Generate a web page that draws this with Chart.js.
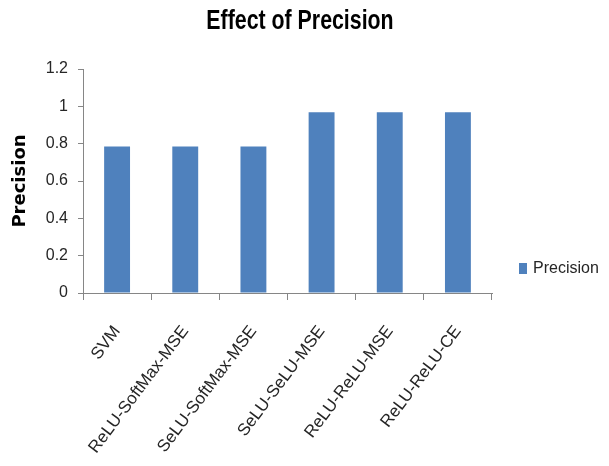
<!DOCTYPE html>
<html>
<head>
<meta charset="utf-8">
<script src="https://cdn.jsdelivr.net/npm/chart.js@4.4.0/dist/chart.umd.min.js"></script>
<style>
  html, body { margin: 0; padding: 0; background: #fff; }
  #wrap { width: 609px; height: 466px; }
</style>
</head>
<body>
<div id="wrap"><canvas id="precisionChart" width="609" height="466"></canvas></div>
<script>
// Chart data
const categories = ['SVM', 'ReLU-SoftMax-MSE', 'SeLU-SoftMax-MSE', 'SeLU-SeLU-MSE', 'ReLU-ReLU-MSE', 'ReLU-ReLU-CE'];
const precisionValues = [0.785, 0.785, 0.785, 0.968, 0.968, 0.968];
const seriesName = 'Precision';
const chartTitle = 'Effect of Precision';
const yTicks = [0, 0.2, 0.4, 0.6, 0.8, 1, 1.2];

const barColor = '#4F81BD';
const axisColor = '#868686';
const textColor = '#262626';
const baseFont = '"Liberation Sans", Arial, sans-serif';

// Condensed bold title, like the Calibri one in the original
const condensedTitle = {
    id: 'condensedTitle',
    afterDraw(chart) {
        const ctx = chart.ctx;
        ctx.save();
        ctx.translate(300, 29);
        ctx.scale(0.79, 1);
        ctx.font = 'bold 27px ' + baseFont;
        ctx.fillStyle = '#000';
        ctx.textAlign = 'center';
        ctx.textBaseline = 'alphabetic';
        ctx.fillText(chartTitle, 0, 0);
        ctx.restore();
    }
};

// Legend on the right, Excel style
const sideLegend = {
    id: 'sideLegend',
    afterDraw(chart) {
        const ctx = chart.ctx;
        const x = chart.chartArea.right + 27;
        const y = 269;
        ctx.save();
        ctx.fillStyle = barColor;
        ctx.fillRect(x, y - 6, 8, 11);
        ctx.fillStyle = textColor;
        ctx.font = '16px ' + baseFont;
        ctx.textBaseline = 'middle';
        ctx.fillText(seriesName, x + 14, y);
        ctx.restore();
    }
};

function createPrecisionChart() {
    const ctx = document.getElementById('precisionChart').getContext('2d');
    return new Chart(ctx, {
        type: 'bar',
        data: {
            labels: categories,
            datasets: [{
                label: seriesName,
                data: precisionValues,
                backgroundColor: barColor,
                borderWidth: 0,
                categoryPercentage: 1,
                barPercentage: 0.38
            }]
        },
        options: {
            responsive: false,
            animation: false,
            layout: { padding: { left: 0, right: 117, top: 69, bottom: 0 } },
            plugins: {
                legend: { display: false },
                tooltip: { enabled: false },
                title: { display: false }
            },
            scales: {
                x: {
                    afterFit(scale) { scale.height = 173; },
                    grid: {
                        drawOnChartArea: false,
                        drawTicks: true,
                        tickLength: 7,
                        color: axisColor
                    },
                    border: { color: axisColor, width: 1 },
                    ticks: {
                        color: textColor,
                        minRotation: 53,
                        maxRotation: 53,
                        padding: 22,
                        font: { family: baseFont, size: 17 }
                    }
                },
                y: {
                    min: 0,
                    max: 1.2,
                    afterFit(scale) { scale.width = 83; },
                    afterBuildTicks(scale) {
                        scale.ticks = yTicks.map(v => ({ value: v }));
                    },
                    grid: {
                        drawOnChartArea: false,
                        drawTicks: true,
                        tickLength: 5,
                        color: axisColor
                    },
                    border: { color: axisColor, width: 1 },
                    ticks: {
                        color: textColor,
                        padding: 10,
                        font: { family: baseFont, size: 16 },
                        callback: v => String(Math.round(v * 10) / 10)
                    },
                    title: {
                        display: true,
                        text: 'Precision',
                        color: '#000',
                        font: { family: '"DejaVu Sans", Verdana, sans-serif', size: 18, weight: 'bold' },
                        padding: { top: 10, bottom: 0 }
                    }
                }
            }
        },
        plugins: [condensedTitle, sideLegend]
    });
}

createPrecisionChart();
</script>
</body>
</html>
